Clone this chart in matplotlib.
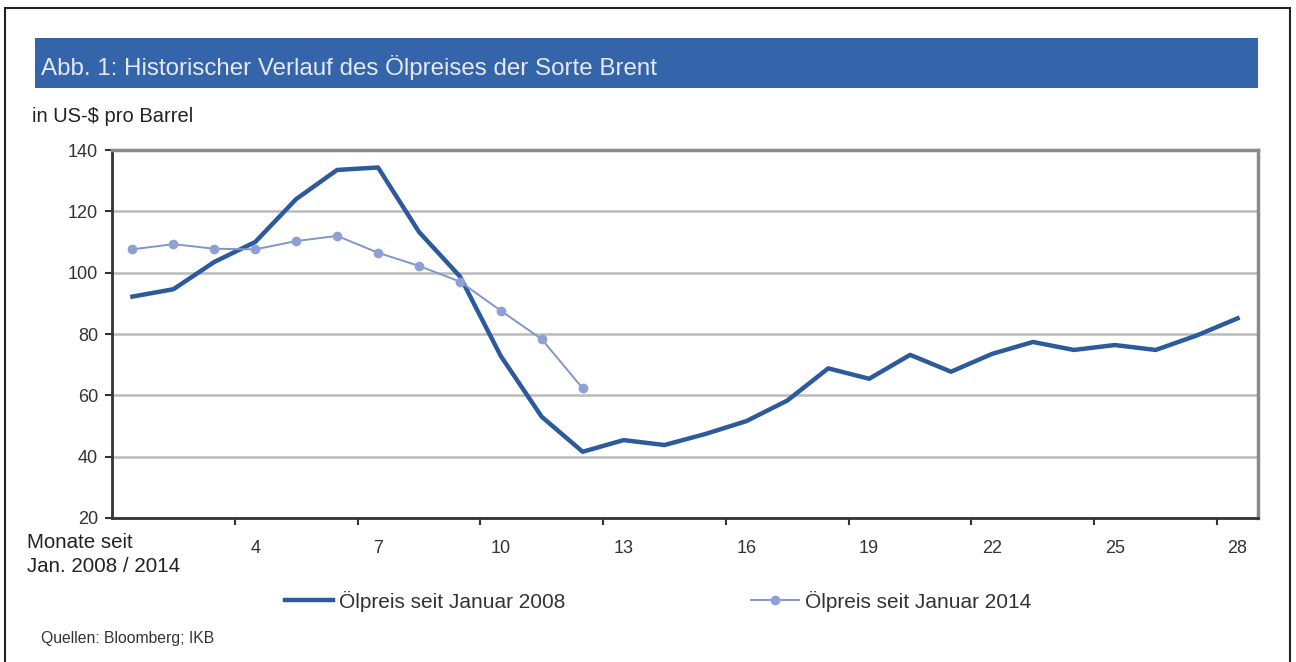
import matplotlib.pyplot as plt
from matplotlib.patches import Rectangle

plt.rcParams['font.family'] = ['Liberation Sans', 'DejaVu Sans']

# Monate seit Jan. 2008 / 2014
months = list(range(1, 29))
price_2008 = [92.2, 94.6, 103.5, 110.0, 124.0, 133.5, 134.3, 113.3, 98.8, 72.8,
              53.0, 41.6, 45.4, 43.8, 47.4, 51.6, 58.3, 68.8, 65.4, 73.2,
              67.7, 73.5, 77.4, 74.8, 76.4, 74.8, 79.5, 85.1]
months_2014 = list(range(1, 13))
price_2014 = [107.6, 109.3, 107.8, 107.6, 110.3, 112.0, 106.5, 102.2, 97.1, 87.6,
              78.3, 62.3]

tick_labels = ['4', '7', '10', '13', '16', '19', '22', '25', '28']
label_pos = [4, 7, 10, 13, 16, 19, 22, 25, 28]

dark = '#2D5A9C'
light = '#8196CC'

W, H = 1296, 662
fig = plt.figure(figsize=(W / 100, H / 100), dpi=100)

# outer frame
fig.add_artist(Rectangle((5 / W, -0.01), 1285 / W, (H - 8) / H + 0.01,
                         transform=fig.transFigure, fill=False,
                         edgecolor='#222222', linewidth=1.5))
# title banner
fig.add_artist(Rectangle((35 / W, 1 - 88 / H), 1223 / W, 50 / H,
                         transform=fig.transFigure, facecolor='#3464AA',
                         edgecolor='none'))
fig.text(41 / W, 1 - 67 / H, 'Abb. 1: Historischer Verlauf des Ölpreises der Sorte Brent',
         color='#E4E9F3', fontsize=17.4, va='center', ha='left')
fig.text(32 / W, 1 - 117 / H, 'in US-$ pro Barrel', fontsize=14.5, va='center',
         ha='left', color='#222222')

ax = fig.add_axes([112 / W, 1 - 518 / H, 1146 / W, 368 / H])
ax.plot(months, price_2008, color=dark, linewidth=3.2, solid_joinstyle='round',
        label='Ölpreis seit Januar 2008', zorder=3)
ax.plot(months_2014, price_2014, color=light, linewidth=1.4, marker='o',
        markersize=6, markerfacecolor='#8FA0D2', markeredgecolor='#8FA0D2',
        label='Ölpreis seit Januar 2014', zorder=4)

ax.set_xlim(0.5, 28.5)
ax.set_ylim(20, 140)
ax.set_yticks(range(20, 141, 20))
ax.yaxis.grid(True, color='#BBBBBB', linewidth=1.8)
ax.set_axisbelow(True)

ax.set_xticks([3.5 + 3 * i for i in range(9)])
ax.set_xticklabels([])
ax.set_xticks(label_pos, minor=True)
ax.set_xticklabels(tick_labels, minor=True)
ax.tick_params(axis='x', which='major', direction='out', length=5, width=1.5,
               color='#333333')
ax.tick_params(axis='x', which='minor', length=0, pad=16, labelsize=13,
               labelcolor='#333333')
ax.tick_params(axis='y', direction='out', length=5, width=1.5, color='#333333',
               labelsize=13, labelcolor='#333333', pad=5)

for side in ['top', 'right']:
    ax.spines[side].set_color('#8A8A8A')
    ax.spines[side].set_linewidth(2.5)
for side in ['left', 'bottom']:
    ax.spines[side].set_color('#333333')
    ax.spines[side].set_linewidth(2)

fig.text(27 / W, 1 - 543 / H, 'Monate seit', fontsize=14.8,
         va='center', ha='left', color='#222222')
fig.text(27 / W, 1 - 567 / H, 'Jan. 2008 / 2014', fontsize=14.8,
         va='center', ha='left', color='#222222')

ax.legend(loc='center left', bbox_to_anchor=(266 / W, 1 - 601 / H),
          bbox_transform=fig.transFigure, ncol=2, frameon=False, fontsize=15,
          handlelength=2.3, handletextpad=0.3, columnspacing=8.9,
          labelcolor='#333333')

fig.text(41 / W, 1 - 638 / H, 'Quellen: Bloomberg; IKB', fontsize=11.3,
         va='center', ha='left', color='#333333')

fig.savefig('out.png', dpi=100)
